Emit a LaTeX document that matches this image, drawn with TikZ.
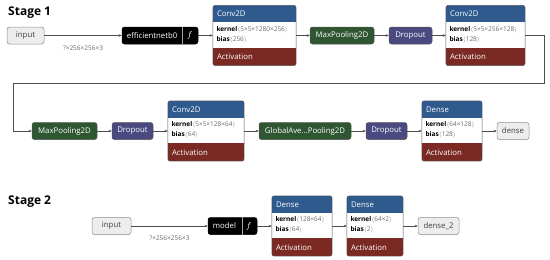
\documentclass[tikz,border=0pt]{standalone}
\usepackage{fontspec}
\setmainfont{Open Sans}
\usepackage{tikz}
\usetikzlibrary{arrows.meta}
\definecolor{HeadBlue}{HTML}{2E5A8E}
\definecolor{ActRed}{HTML}{7B2923}
\definecolor{PoolGreen}{HTML}{2E5631}
\definecolor{DropPurple}{HTML}{4A4A80}
\definecolor{InFill}{HTML}{EDEDED}
\definecolor{InEdge}{HTML}{8C8C8C}
\definecolor{BoxEdge}{HTML}{555555}
\definecolor{ShapeGrey}{HTML}{6A6A6A}
\definecolor{WireGrey}{HTML}{4D4D4D}

\newcommand{\lblfont}{\fontsize{7.8}{9}\selectfont}
\newcommand{\smallfont}{\fontsize{6.5}{7.5}\selectfont}

\tikzset{
  layerbox/.style={rounded corners=2.5pt, draw=BoxEdge, line width=0.5pt,
    minimum height=17pt, inner sep=0pt, font=\lblfont, text=white},
  inbox/.style={layerbox, fill=InFill, draw=InEdge, text=black!75},
  poolbox/.style={layerbox, fill=PoolGreen},
  dropbox/.style={layerbox, fill=DropPurple},
  funcbox/.style={layerbox, fill=black, draw=black},
  blockframe/.style={minimum height=60pt, inner sep=0pt},
  headtext/.style={anchor=west, inner sep=0pt, font=\lblfont, text=white},
  bodytext/.style={anchor=west, inner sep=0pt, font=\smallfont},
  shapetext/.style={font=\smallfont, text=ShapeGrey, inner sep=0pt},
  stagetext/.style={anchor=west, inner sep=0pt, font=\fontsize{12}{14}\selectfont\bfseries},
  wire/.style={WireGrey, line width=0.6pt, -{Stealth[length=3pt, width=2.6pt]}}
}

% block with title, weights and activation
\newcommand{\layerblock}[6]{%
  \node[blockframe, minimum width=#3] (#1) at (#2) {};
  \begin{scope}
    \clip[rounded corners=2.5pt] (#1.north west) rectangle (#1.south east);
    \fill[HeadBlue] (#1.north west) rectangle ([yshift=-17pt]#1.north east);
    \fill[ActRed] ([yshift=18pt]#1.south west) rectangle (#1.south east);
  \end{scope}
  \draw[BoxEdge, line width=0.5pt, rounded corners=2.5pt] (#1.north west) rectangle (#1.south east);
  \node[headtext] at ([shift={(4pt,-8.5pt)}]#1.north west) {#4};
  \node[bodytext] at ([shift={(3.5pt,-24pt)}]#1.north west)
    {\textbf{kernel}\textcolor{ShapeGrey}{$\langle$#5$\rangle$}};
  \node[bodytext] at ([shift={(3.5pt,-34pt)}]#1.north west)
    {\textbf{bias}\textcolor{ShapeGrey}{$\langle$#6$\rangle$}};
  \node[headtext] at ([shift={(4pt,9pt)}]#1.south west) {Activation};
}

\begin{document}
\begin{tikzpicture}[x=1pt, y=-1pt]
  \useasboundingbox (0,0) rectangle (550,260);

  % Stage 1
  \node[stagetext] (stage1) at (8,13) {Stage 1};

  \node[inbox, minimum width=37pt] (input1) at (25.5,35.5) {input};
  \node[funcbox, minimum width=76pt] (effnet) at (160,35.5) {};
  \node[headtext] at ([xshift=5pt]effnet.west) {efficientnetb0};
  \draw[gray!70] ([xshift=-16pt]effnet.north east) -- ([xshift=-16pt]effnet.south east);
  \node[headtext, anchor=center] at ([xshift=-8pt]effnet.east) {\textit{f}};
  \layerblock{conv1}{254.5,35.5}{83pt}{Conv2D}{5×5×1280×256}{256}
  \node[poolbox, minimum width=64pt] (pool1) at (342,35.5) {MaxPooling2D};
  \node[dropbox, minimum width=43pt] (drop1) at (410.5,35.5) {Dropout};
  \layerblock{conv2}{485.5,35.5}{79pt}{Conv2D}{5×5×256×128}{128}

  \node[poolbox, minimum width=65pt] (pool2) at (64.5,131) {MaxPooling2D};
  \node[dropbox, minimum width=41pt] (drop2) at (132.5,131) {Dropout};
  \layerblock{conv3}{206,131}{76pt}{Conv2D}{5×5×128×64}{64}
  \node[poolbox, minimum width=92pt] (gap) at (305,131) {GlobalAve...Pooling2D};
  \node[dropbox, minimum width=41pt] (drop3) at (386.5,131) {Dropout};
  \layerblock{dense1}{452,131}{60pt}{Dense}{64×128}{128}
  \node[inbox, minimum width=32pt] (out1) at (513,131) {dense};

  \coordinate (turnR) at (544,83);
  \coordinate (turnL) at (13,83);

  \draw[wire] (input1) -- node[shapetext, yshift=-12.5pt] {?×256×256×3} (effnet);
  \draw[wire] (effnet) -- (conv1);
  \draw[wire] (conv1) -- (pool1);
  \draw[wire] (pool1) -- (drop1);
  \draw[wire] (drop1) -- (conv2);
  \draw[wire] (conv2.east) -| (turnR) -- (turnL) |- (pool2.west);
  \draw[wire] (pool2) -- (drop2);
  \draw[wire] (drop2) -- (conv3);
  \draw[wire] (conv3) -- (gap);
  \draw[wire] (gap) -- (drop3);
  \draw[wire] (drop3) -- (dense1);
  \draw[wire] (dense1) -- (out1);

  % Stage 2
  \node[stagetext] (stage2) at (8,202) {Stage 2};

  \node[inbox, minimum width=39pt] (input2) at (111.5,226) {input};
  \node[funcbox, minimum width=49pt] (model) at (232.5,226) {};
  \node[headtext] at ([xshift=5pt]model.west) {model};
  \draw[gray!70] ([xshift=-15pt]model.north east) -- ([xshift=-15pt]model.south east);
  \node[headtext, anchor=center] at ([xshift=-8pt]model.east) {\textit{f}};
  \layerblock{dense2}{302,226}{60pt}{Dense}{128×64}{64}
  \layerblock{dense3}{375,226}{56pt}{Dense}{64×2}{2}
  \node[inbox, minimum width=41pt] (out2) at (438.5,226) {dense\_2};

  \draw[wire] (input2) -- node[shapetext, yshift=-12.5pt] {?×256×256×3} (model);
  \draw[wire] (model) -- (dense2);
  \draw[wire] (dense2) -- (dense3);
  \draw[wire] (dense3) -- (out2);
\end{tikzpicture}
\end{document}
